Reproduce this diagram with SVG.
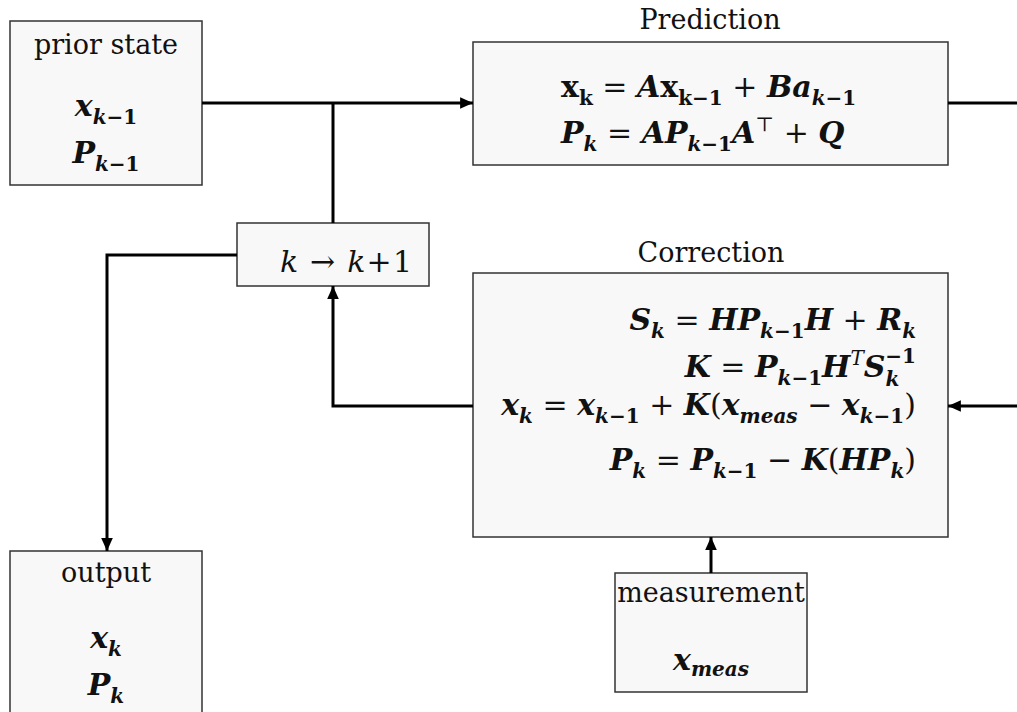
<svg xmlns="http://www.w3.org/2000/svg" width="1017" height="712" viewBox="0 0 1017 712">
<style>
.box{fill:#f8f8f8;stroke:#333;stroke-width:1.5}
.lbl{font-family:"DejaVu Serif",serif;font-size:27px;fill:#111}
.m{font-family:"DejaVu Serif",serif;font-size:30px;font-weight:bold;font-style:italic;fill:#111;white-space:pre}
.up{font-style:normal}
.op{font-weight:normal;font-style:normal}
.s{font-size:20px}
.conn path{fill:none;stroke:#000;stroke-width:3}
</style>
<defs>
<marker id="ah" viewBox="0 0 10 10" refX="10" refY="5" markerWidth="4.3" markerHeight="4.3" orient="auto">
<path d="M0,0.5 L10,5 L0,9.5 z" fill="#000"/>
</marker>
</defs>
<g id="prior">
<rect class="box" x="10" y="21" width="192" height="164"/>
<text class="lbl" x="106" y="54" text-anchor="middle">prior state</text>
<text class="m" x="106" y="116" text-anchor="middle">x<tspan class="s" dy="8">k<tspan class="up">−1</tspan></tspan></text>
<text class="m" x="106" y="163" text-anchor="middle">P<tspan class="s" dy="8">k<tspan class="up">−1</tspan></tspan></text>
</g>
<g id="prediction">
<text class="lbl" x="710" y="29" text-anchor="middle">Prediction</text>
<rect class="box" x="473" y="42" width="475" height="123"/>
<text class="m" x="561" y="97"><tspan class="up">x</tspan><tspan class="s up" dy="8">k</tspan><tspan class="op" dy="-8"> = </tspan>A<tspan class="up">x</tspan><tspan class="s up" dy="8">k−1</tspan><tspan class="op" dy="-8"> + </tspan>Ba<tspan class="s" dy="8">k<tspan class="up">−1</tspan></tspan></text>
<text class="m" x="561" y="143">P<tspan class="s" dy="8">k</tspan><tspan class="op" dy="-8"> = </tspan>AP<tspan class="s" dy="8">k<tspan class="up">−1</tspan></tspan><tspan dy="-8">A</tspan><tspan class="s op" dy="-12">⊤</tspan><tspan class="op" dy="12"> + </tspan>Q</text>
</g>
<g id="step">
<rect class="box" x="237" y="223" width="192" height="63"/>
<text class="lbl" x="280" y="272" style="font-size:30px" textLength="132" lengthAdjust="spacing"><tspan font-style="italic">k</tspan> → <tspan font-style="italic">k</tspan>+1</text>
</g>
<g id="correction">
<text class="lbl" x="711" y="262" text-anchor="middle">Correction</text>
<rect class="box" x="473" y="273" width="475" height="264"/>
<text class="m" x="916" y="330" text-anchor="end">S<tspan class="s" dy="8">k</tspan><tspan class="op" dy="-8"> = </tspan>HP<tspan class="s" dy="8">k<tspan class="up">−1</tspan></tspan><tspan dy="-8">H</tspan><tspan class="op"> + </tspan>R<tspan class="s" dy="8">k</tspan></text>
<text class="m" x="916" y="377" text-anchor="end">K<tspan class="op"> = </tspan>P<tspan class="s" dy="8">k<tspan class="up">−1</tspan></tspan><tspan dy="-8">H</tspan><tspan class="s" font-weight="normal" dy="-12">T</tspan><tspan dy="12">S</tspan><tspan class="s" dy="9">k</tspan><tspan class="s up" dx="-14" dy="-23">−1</tspan></text>
<text class="m" x="916" y="415" text-anchor="end">x<tspan class="s" dy="8">k</tspan><tspan class="op" dy="-8"> = </tspan>x<tspan class="s" dy="8">k<tspan class="up">−1</tspan></tspan><tspan class="op" dy="-8"> + </tspan>K<tspan class="op">(</tspan>x<tspan class="s" dy="8">meas</tspan><tspan class="op" dy="-8"> − </tspan>x<tspan class="s" dy="8">k<tspan class="up">−1</tspan></tspan><tspan class="op" dy="-8">)</tspan></text>
<text class="m" x="916" y="470" text-anchor="end">P<tspan class="s" dy="8">k</tspan><tspan class="op" dy="-8"> = </tspan>P<tspan class="s" dy="8">k<tspan class="up">−1</tspan></tspan><tspan class="op" dy="-8"> − </tspan>K<tspan class="op">(</tspan>HP<tspan class="s" dy="8">k</tspan><tspan class="op" dy="-8">)</tspan></text>
</g>
<g id="measurement">
<rect class="box" x="615" y="573" width="192" height="119"/>
<text class="lbl" x="711" y="602" text-anchor="middle">measurement</text>
<text class="m" x="711" y="670" text-anchor="middle">x<tspan class="s" dy="6">meas</tspan></text>
</g>
<g id="output">
<rect class="box" x="10" y="551" width="192" height="164"/>
<text class="lbl" x="106" y="582" text-anchor="middle">output</text>
<text class="m" x="106" y="648" text-anchor="middle">x<tspan class="s" dy="8">k</tspan></text>
<text class="m" x="106" y="695" text-anchor="middle">P<tspan class="s" dy="8">k</tspan></text>
</g>
<g class="conn" id="connectors">
<path d="M202,103 H473" marker-end="url(#ah)"/>
<path d="M948,103 H1017"/>
<path d="M333,103 V223"/>
<path d="M237,255 H107 V551" marker-end="url(#ah)"/>
<path d="M473,406 H333 V286" marker-end="url(#ah)"/>
<path d="M1017,406 H948" marker-end="url(#ah)"/>
<path d="M711,573 V537" marker-end="url(#ah)"/>
</g>
</svg>
